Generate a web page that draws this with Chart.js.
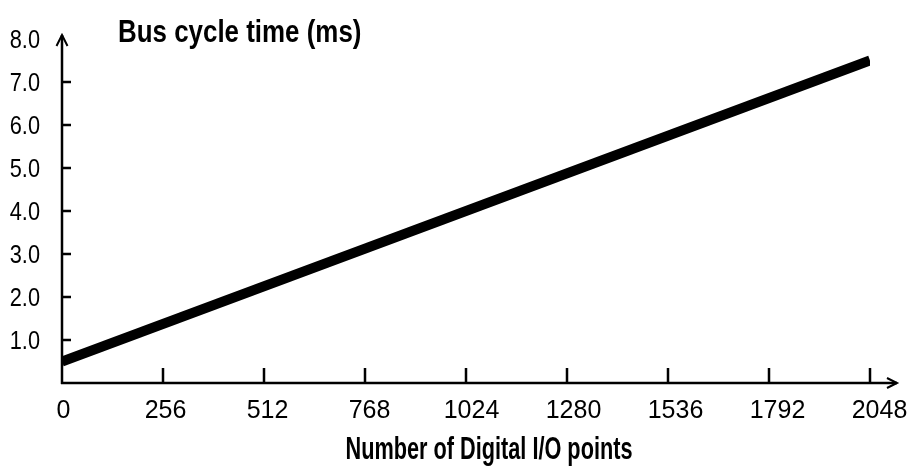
<!DOCTYPE html>
<html><head><meta charset="utf-8">
<script src="https://cdn.jsdelivr.net/npm/chart.js@4/dist/chart.umd.min.js"></script>
<style>html,body{margin:0;padding:0;background:#fff}#wrap{width:909px;height:476px}</style>
</head><body><div id="wrap"><canvas id="c"></canvas></div>
<script>
const ioPoints = [0, 2048];
const busCycleMs = [0.5, 7.5];
const xTickValues = [0, 256, 512, 768, 1024, 1280, 1536, 1792, 2048];
const yTickValues = [1, 2, 3, 4, 5, 6, 7, 8];
const chartTitle = 'Bus cycle time (ms)';
const xAxisTitle = 'Number of Digital I/O points';

const fam = '"Liberation Sans", Arial, sans-serif';

function scaledText(ctx, text, x, y, sx, align) {
  ctx.save();
  ctx.translate(x, y);
  ctx.scale(sx, 1);
  ctx.textAlign = align;
  ctx.fillText(text, 0, 0);
  ctx.restore();
}

const axesPlugin = {
  id: 'axesPlugin',
  afterDatasetsDraw(chart) {
    const ctx = chart.ctx, xs = chart.scales.x, ys = chart.scales.y;
    const x0 = xs.getPixelForValue(0), y0 = ys.getPixelForValue(0);
    ctx.save();
    ctx.strokeStyle = '#000'; ctx.fillStyle = '#000';
    ctx.lineWidth = 2.5; ctx.lineCap = 'butt';
    const yTop = ys.getPixelForValue(8) - 4;
    const xEnd = xs.getPixelForValue(2048) + 27;
    ctx.beginPath();
    ctx.moveTo(x0, y0 + 1); ctx.lineTo(x0, yTop);
    ctx.moveTo(x0 - 1, y0); ctx.lineTo(xEnd, y0);
    ctx.stroke();
    ctx.lineWidth = 2;
    ctx.beginPath();
    ctx.moveTo(x0 - 5.5, yTop + 11); ctx.lineTo(x0, yTop); ctx.lineTo(x0 + 5.5, yTop + 11);
    ctx.moveTo(xEnd - 10, y0 - 5); ctx.lineTo(xEnd, y0); ctx.lineTo(xEnd - 10, y0 + 5);
    ctx.stroke();
    ctx.lineWidth = 2.5;
    ctx.beginPath();
    yTickValues.forEach(v => { if (v < 8) { const p = ys.getPixelForValue(v); ctx.moveTo(x0, p); ctx.lineTo(x0 + 9, p); } });
    xTickValues.forEach(v => { if (v > 0) { const p = xs.getPixelForValue(v); ctx.moveTo(p, y0); ctx.lineTo(p, y0 - 15); } });
    ctx.stroke();
    ctx.textBaseline = 'alphabetic';
    ctx.font = '25px ' + fam;
    yTickValues.forEach(v => scaledText(ctx, v.toFixed(1), 40, ys.getPixelForValue(v) + 9, 0.87, 'right'));
    xTickValues.forEach(v => scaledText(ctx, String(v), xs.getPixelForValue(v) + 1.5 + v / 2048 * 8, 418, 1.0, 'center'));
    ctx.font = 'bold 32px ' + fam;
    scaledText(ctx, chartTitle, 118, 42, 0.81, 'left');
    ctx.font = 'bold 31px ' + fam;
    scaledText(ctx, xAxisTitle, 489, 459, 0.70, 'center');
    ctx.restore();
  }
};

new Chart(document.getElementById('c'), {
  type: 'line',
  data: {
    datasets: [{
      data: ioPoints.map((x, i) => ({ x, y: busCycleMs[i] })),
      borderColor: '#000', borderWidth: 10, borderCapStyle: 'butt',
      pointRadius: 0, fill: false, tension: 0
    }]
  },
  options: {
    responsive: true, maintainAspectRatio: false, animation: false,
    layout: { padding: { left: 62, right: 39, top: 39, bottom: 93 } },
    plugins: { legend: { display: false }, tooltip: { enabled: false } },
    scales: {
      x: { type: 'linear', min: 0, max: 2048, display: false },
      y: { type: 'linear', min: 0, max: 8, display: false }
    }
  },
  plugins: [axesPlugin]
});
</script></body></html>
